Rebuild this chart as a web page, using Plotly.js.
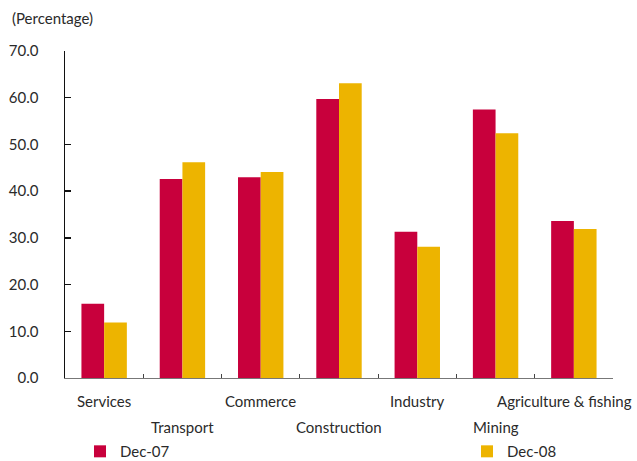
<!DOCTYPE html>
<html>
<head>
<meta charset="utf-8">
<script src="https://cdn.plot.ly/plotly-3.0.1.min.js"></script>
<style>
  html, body { margin: 0; padding: 0; background: #fff; }
  #chart { width: 637px; height: 461px; }
</style>
</head>
<body>
<div id="chart"></div>
<script>
// Sectors and shares (%) at two dates
const sectors = ["Services", "Transport", "Commerce", "Construction", "Industry", "Mining", "Agriculture & fishing"];
const dec07 = [15.9, 42.6, 43.0, 59.7, 31.3, 57.5, 33.6];
const dec08 = [11.9, 46.2, 44.1, 63.1, 28.1, 52.4, 31.9];
const seriesNames = ["Dec-07", "Dec-08"];
const yTicks = [0, 10, 20, 30, 40, 50, 60, 70];

const RED = "#C8003C";
const GOLD = "#EDB400";
const FONT = "Lato, 'Noto Sans', sans-serif";
const TEXT = "#2a2a2a";

const traces = [
  { type: "bar", name: seriesNames[0], x: sectors, y: dec07, marker: { color: RED }, legend: "legend" },
  { type: "bar", name: seriesNames[1], x: sectors, y: dec08, marker: { color: GOLD }, legend: "legend2" }
];

// Category labels alternate between two rows; the last one is nudged left to stay on the page
const annotations = sectors.map((s, i) => ({
  x: s, xref: "x",
  y: i % 2 === 0 ? -0.069 : -0.149, yref: "paper",
  xanchor: "center", yanchor: "middle",
  xshift: i === sectors.length - 1 ? -9 : 0,
  text: s, showarrow: false,
  font: { family: FONT, size: 15, color: TEXT }
}));
annotations.push({
  x: -0.1, xref: "paper", y: 1.1, yref: "paper",
  xanchor: "left", yanchor: "middle",
  text: "(Percentage)", showarrow: false,
  font: { family: FONT, size: 15, color: TEXT }
});

const legendBase = {
  orientation: "h", xanchor: "left", y: -0.225, yanchor: "middle",
  font: { family: FONT, size: 15, color: TEXT },
  bgcolor: "rgba(0,0,0,0)", borderwidth: 0
};

const layout = {
  width: 637, height: 461,
  margin: { l: 65, r: 24, t: 50.7, b: 82.7, pad: 0, autoexpand: false },
  paper_bgcolor: "#fff", plot_bgcolor: "#fff",
  font: { family: FONT, size: 15, color: TEXT },
  barmode: "group", bargap: 0.42, bargroupgap: 0,
  showlegend: true,
  legend: Object.assign({ x: 0.0274 }, legendBase),
  legend2: Object.assign({ x: 0.7336 }, legendBase),
  xaxis: {
    type: "category",
    range: [-0.5, sectors.length - 0.5], autorange: false,
    showticklabels: false,
    showline: true, linecolor: "#777", linewidth: 1.2,
    ticks: "inside", tickson: "boundaries", ticklen: 4, tickcolor: "#444", tickwidth: 1,
    showgrid: false, zeroline: false, fixedrange: true
  },
  yaxis: {
    range: [0, 70], autorange: false, tickmode: "array", tickvals: yTicks,
    tickformat: ".1f",
    showline: true, linecolor: "#111", linewidth: 1.5,
    ticks: "inside", ticklen: 6, tickcolor: "#111", tickwidth: 1.5,
    ticklabelstandoff: 22,
    showgrid: false, zeroline: false, fixedrange: true,
    tickfont: { family: FONT, size: 15, color: TEXT }
  },
  annotations: annotations
};

Plotly.newPlot("chart", traces, layout, { displayModeBar: false, staticPlot: true });
</script>
</body>
</html>
